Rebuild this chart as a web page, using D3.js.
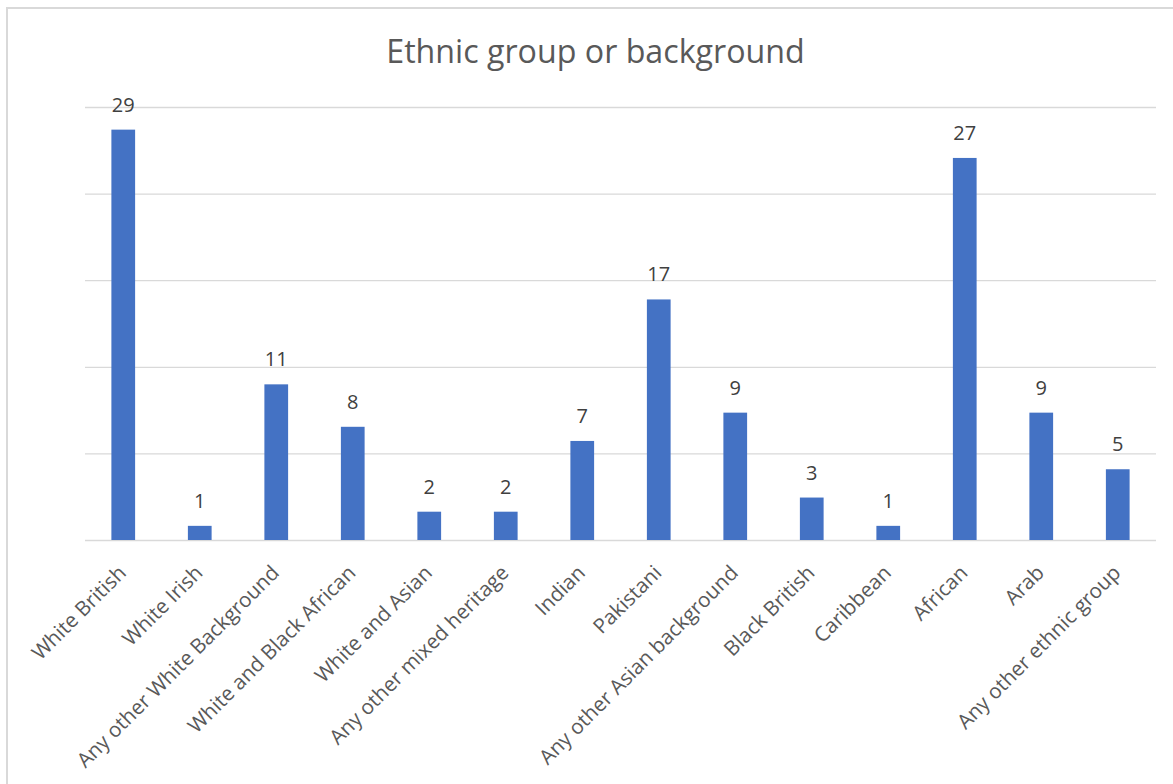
<!DOCTYPE html>
<html>
<head>
<meta charset="utf-8">
<script src="https://cdn.jsdelivr.net/npm/d3@7"></script>
<style>
  html, body { margin: 0; padding: 0; background: #ffffff; }
  svg { display: block; }
</style>
</head>
<body>
<svg id="chart" width="1173" height="784"></svg>
<script>
const title = "Ethnic group or background";
const categories = [
  "White British", "White Irish", "Any other White Background", "White and Black African",
  "White and Asian", "Any other mixed heritage", "Indian", "Pakistani",
  "Any other Asian background", "Black British", "Caribbean", "African",
  "Arab", "Any other ethnic group"
];
const values = [29, 1, 11, 8, 2, 2, 7, 17, 9, 3, 1, 27, 9, 5];
const yMax = 30.6;
const gridCount = 5;

const W = 1173, H = 784;
const margin = { left: 85, right: 17, top: 107, bottom: 244 };
const svg = d3.select("#chart");

// chart frame
svg.append("path")
  .attr("d", `M7,${H} L7,8 L${W},8`)
  .attr("fill", "none").attr("stroke", "#d9d9d9").attr("stroke-width", 2);

const x = d3.scaleBand()
  .domain(categories)
  .range([margin.left, W - margin.right])
  .paddingInner(0.69).paddingOuter(0.345);

const y = d3.scaleLinear()
  .domain([0, yMax])
  .range([H - margin.bottom, margin.top]);

const gridTicks = d3.range(0, gridCount + 1).map(i => i * yMax / gridCount);

// gridlines
svg.append("g")
  .attr("transform", `translate(${margin.left},0)`)
  .call(d3.axisLeft(y).tickValues(gridTicks).tickSize(-(W - margin.left - margin.right)).tickFormat(""))
  .call(g => g.select(".domain").remove())
  .call(g => g.selectAll("line").attr("stroke", "#d9d9d9").attr("stroke-width", 1.3));

// bars
svg.append("g").selectAll("rect")
  .data(values)
  .join("rect")
  .attr("x", (d, i) => x(categories[i]))
  .attr("y", d => y(d))
  .attr("width", x.bandwidth())
  .attr("height", d => y(0) - y(d))
  .attr("fill", "#4472c4");

// data labels
svg.append("g").selectAll("text")
  .data(values)
  .join("text")
  .attr("x", (d, i) => x(categories[i]) + x.bandwidth() / 2)
  .attr("y", d => y(d) - 18)
  .attr("text-anchor", "middle")
  .attr("font-family", "'Open Sans', sans-serif")
  .attr("font-size", 20)
  .attr("fill", "#404040")
  .text(d => d);

// category axis labels
const xAxis = svg.append("g")
  .attr("transform", `translate(0,${y(0)})`)
  .call(d3.axisBottom(x).tickSize(0).tickPadding(0));
xAxis.select(".domain").remove();
xAxis.selectAll("text")
  .attr("font-family", "'Open Sans', sans-serif")
  .attr("font-size", 20.6)
  .attr("fill", "#595959")
  .attr("text-anchor", "end")
  .attr("dy", "0.35em")
  .attr("transform", "translate(-1,29) rotate(-45)");

// title
svg.append("text")
  .attr("x", (W) / 2 + 9)
  .attr("y", 63)
  .attr("text-anchor", "middle")
  .attr("font-family", "'Open Sans', sans-serif")
  .attr("font-size", 32.2)
  .attr("fill", "#595959")
  .text(title);
</script>
</body>
</html>
